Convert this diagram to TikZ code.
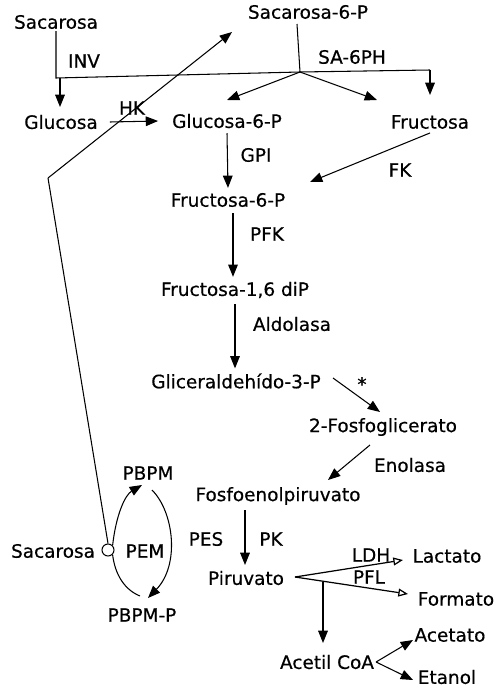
\documentclass[tikz,border=0pt]{standalone}
\usepackage{fontspec}
\setmainfont{DejaVu Sans}[FakeBold=0.5]
\usepackage{tikz}
\usetikzlibrary{arrows.meta, positioning, calc}
\tikzset{
  met/.style={font=\fontsize{10.5}{12}\selectfont, inner sep=1pt},
  enz/.style={font=\fontsize{10.5}{12}\selectfont, inner sep=1pt},
  arrow/.style={-{Triangle[length=7pt, width=5.5pt]}, line width=0.6pt},
  openarrow/.style={-{Triangle[open, length=5.5pt, width=4.5pt]}, line width=0.7pt},
  line/.style={line width=0.6pt},
  port/.style={circle, draw, line width=0.6pt, minimum size=0.24cm, inner sep=0pt}
}

\begin{document}
\begin{tikzpicture}[x=0.02cm, y=-0.02cm]
  \useasboundingbox (0,0) rectangle (503,690);

  % Metabolites
  \node[met] (sac)   at (56,22)  {Sacarosa};
  \node[met] (sac6p) at (308,12) {Sacarosa-6-P};
  \node[met] (glc)   at (61,122) {Glucosa};
  \node[met] (glc6p) at (227,121) {Glucosa-6-P};
  \node[met] (fru)   at (430,122) {Fructosa};
  \node[met] (fru6p) at (228,200) {Fructosa-6-P};
  \node[met] (frudp) at (235,290) {Fructosa-1,6 diP};
  \node[met] (gap)   at (236,381) {Gliceraldehído-3-P};
  \node[met] (pga)   at (383,427) {2-Fosfoglicerato};
  \node[met] (pep)   at (278,496) {Fosfoenolpiruvato};
  \node[met] (pyr)   at (246,578) {Piruvato};
  \node[met] (lac)   at (447,556) {Lactato};
  \node[met] (form)  at (456,599) {Formato};
  \node[met] (acoa)  at (327,662) {Acetil CoA};
  \node[met] (acet)  at (450,635) {Acetato};
  \node[met] (etoh)  at (447,677) {Etanol};

  % PTS system
  \node[met] (sacb)  at (53,551)  {Sacarosa};
  \node[port] (pts)  at (108,550) {};
  \node[met] (pbpm)  at (148,473) {PBPM};
  \node[met] (pbpmp) at (142,615) {PBPM-P};
  \node[enz] (pem)   at (145,551) {PEM};

  % Enzymes
  \node[enz] (inv)   at (84,61)   {INV};
  \node[enz] (sa6ph) at (352,57)  {SA-6PH};
  \node[enz] (hk)    at (132,108) {HK};
  \node[enz] (gpi)   at (256,155) {GPI};
  \node[enz] (fk)    at (400,170) {FK};
  \node[enz] (pfk)   at (267,234) {PFK};
  \node[enz] (ald)   at (292,324) {Aldolasa};
  \node[enz] (star)  at (362,384) {*};
  \node[enz] (eno)   at (410,465) {Enolasa};
  \node[enz] (pes)   at (206,539) {PES};
  \node[enz] (pk)    at (271,539) {PK};
  \node[enz] (ldh)   at (371,555) {LDH};
  \node[enz] (pfl)   at (369,577) {PFL};

  % Junction points
  \coordinate (invL) at (56,78);
  \coordinate (junc) at (300,72);
  \coordinate (invR) at (430,70);
  \coordinate (bend) at (48,178);
  \coordinate (fork) at (295,577);
  \coordinate (split) at (323,582);

  % Sucrose hydrolysis
  \draw[line] (sac.south) -- (invL) -- (junc) -- (invR);
  \draw[arrow] (60,78) -- (60,107);
  \draw[arrow] (invR) -- (430,95);
  \draw[line] (297,24) -- (junc);
  \draw[arrow] (junc) -- (227,100);
  \draw[arrow] (junc) -- (377,100);

  % Phosphorylation
  \draw[arrow] (glc.east) ++(10,0) -- ($(glc6p.west)+(-12,0)$);
  \draw[line] (pts.north) -- (bend);
  \draw[arrow] (bend) -- (232,32);

  % Glycolysis
  \draw[arrow] (glc6p.south) ++(0,3) -- ($(fru6p.north)+(0,-3)$);
  \draw[arrow] (fru.south) ++(0,2) -- (310,182);
  \draw[arrow] (fru6p.south) ++(5,4) -- ($(frudp.north)+(-2,-3)$);
  \draw[arrow] (frudp.south) ++(0,4) -- ($(gap.north)+(-1,-3)$);
  \draw[arrow] (333,378) -- (380,412);
  \draw[arrow] (370,445) -- (328,480);
  \draw[arrow] (245,510) -- (245,565);

  % Pyruvate fate
  \draw[openarrow] (fork) -- (403,560);
  \draw[openarrow] (fork) -- (408,594);
  \draw[arrow] (split) -- (323,643);
  \draw[arrow] (acoa.east) -- (413,640);
  \draw[arrow] (acoa.east) -- (413,680);

  % PTS loop
  \draw[arrow] (pts.north east) .. controls (116,515) and (125,495) .. (142,485);
  \draw[arrow] (152,490) .. controls (174,512) and (180,565) .. (148,598);
  \draw[line] (pts.south east) .. controls (115,575) and (125,590) .. (140,596);
\end{tikzpicture}
\end{document}
